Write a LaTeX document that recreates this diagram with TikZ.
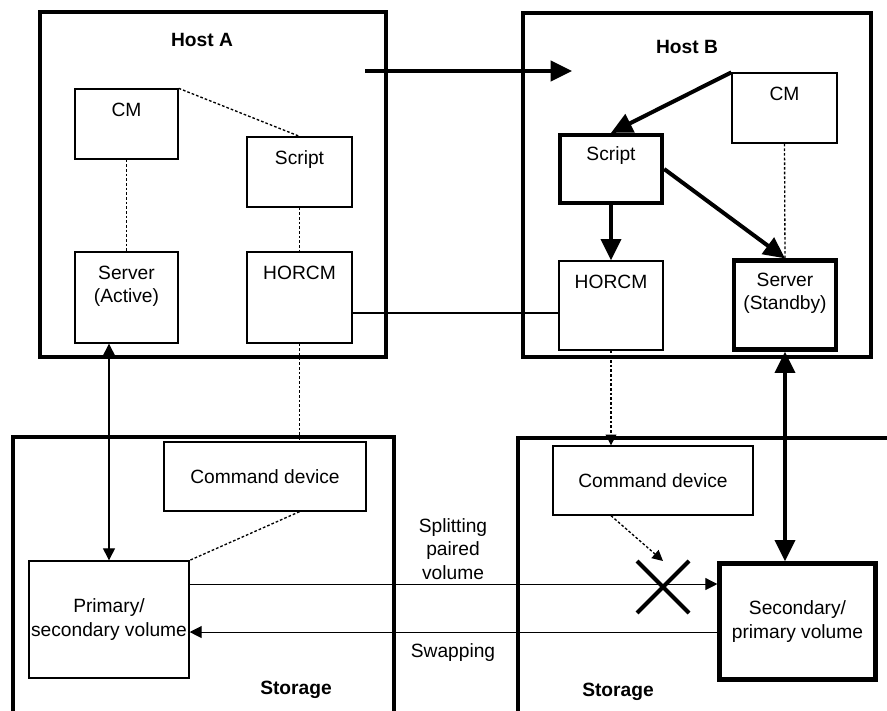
\documentclass[tikz,border=0pt]{standalone}
\usepackage{fontspec}
\setmainfont{Liberation Sans}
\usetikzlibrary{arrows.meta,shapes.misc}

\begin{document}
\begin{tikzpicture}[x=0.75pt, y=-0.75pt,
  every node/.style={font=\fontsize{14.4}{17.5}\selectfont},
  hosttitle/.style={font=\fontsize{14.4}{17.5}\selectfont\bfseries},
  hostframe/.style={line width=3.5pt},
  box/.style={draw, line width=1pt, inner sep=0pt},
  heavy/.style={box, line width=3.2pt},
  toplbl/.style={label={[anchor=base, yshift=-21pt]north:{#1}}},
  duolbl/.style={label={[anchor=base, yshift=-38.5pt, align=center]north:{#1}}},
  link/.style={line width=0.8pt},
  dots/.style={line width=1pt, dash pattern=on 2pt off 1.5pt},
  onearrow/.style={link, -{Triangle[length=9pt, width=9pt]}},
  twoarrow/.style={link, {Triangle[length=9pt, width=9pt]}-{Triangle[length=9pt, width=9pt]}},
  fatarrow/.style={line width=3pt, -{Triangle[length=16pt, width=15pt]}},
  fattwo/.style={line width=3pt, {Triangle[length=16pt, width=15pt]}-{Triangle[length=16pt, width=15pt]}}]
\useasboundingbox (0,0) rectangle (887,710);
\clip (0,0) rectangle (887,710);
\draw[hostframe] (40,12) rectangle (386,357);
\draw[hostframe] (523,13) rectangle (871,357);
\draw[hostframe] (13,437) rectangle (394,730);
\draw[hostframe] (518,438) rectangle (910,730);
\node[hosttitle] (hostA) at (202,40) {Host A};
\node[hosttitle] (hostB) at (687,47) {Host B};
\node[hosttitle] (storA) at (296,690) {Storage};
\node[hosttitle] (storB) at (618,692) {Storage};
\node[box, toplbl=CM, minimum width=77.25pt, minimum height=52.5pt] (cmA) at (126.5,124) {};
\node[box, toplbl=Script, minimum width=78.75pt, minimum height=52.5pt] (scrA) at (299.5,172) {};
\node[box, duolbl={Server\\(Active)}, minimum width=77.25pt, minimum height=68.25pt] (srvA) at (126.5,297.5) {};
\node[box, toplbl=HORCM, minimum width=78.75pt, minimum height=68.25pt] (horA) at (299.5,297.5) {};
\node[box, toplbl=CM, minimum width=78.75pt, minimum height=52.5pt] (cmB) at (784.5,108) {};
\node[heavy, toplbl=Script, minimum width=76.5pt, minimum height=51pt] (scrB) at (611,169) {};
\node[box, toplbl=HORCM, minimum width=78pt, minimum height=66.75pt] (horB) at (611,305.5) {};
\node[heavy, duolbl={Server\\(Standby)}, minimum width=77pt, minimum height=66.75pt] (srvB) at (785,305) {};
\node[box, minimum width=151.5pt, minimum height=51.75pt] (cmdA) at (265,476.5) {Command device};
\node[box, minimum width=150pt, minimum height=51.75pt] (cmdB) at (653,480.5) {Command device};
\node[box, align=center, minimum width=120pt, minimum height=87.75pt] (volA) at (109,619.5) {Primary/\\secondary volume};
\node[heavy, align=center, minimum width=117pt, minimum height=87pt] (volB) at (797.5,621.5) {Secondary/\\primary volume};
\node[cross out, draw, line width=3pt, minimum size=36pt, inner sep=0pt] (block) at (663,587) {};
\node[align=center] (splitlbl) at (453,549) {Splitting\\paired\\volume};
\node (swaplbl) at (453,653) {Swapping};
\coordinate (mvstart) at (365,71);
\coordinate (mvend) at (572,71);
\draw[fatarrow] (mvstart) -- (mvend);
\draw[dots] (cmA.north east) -- (scrA.north);
\draw[dots] (cmA.south) -- (srvA.north);
\draw[dots] (scrA.south) -- (horA.north);
\draw[link] ([yshift=-11.6pt]horA.east) -- ([yshift=-11.6pt]horA.east -| horB.west);
\draw[twoarrow] (srvA.south -| volA.north) -- (volA.north);
\draw[dots] (horA.south) -- (horA.south |- cmdA.north);
\draw[dots] (cmdA.south -| horA.south) -- (volA.north east);
\draw[onearrow] ([yshift=26.6pt]volA.east) -- ([yshift=26.6pt]volA.east -| volB.west);
\draw[onearrow] ([yshift=-9.4pt]volA.east -| volB.west) -- ([yshift=-9.4pt]volA.east);
\draw[fatarrow] (cmB.north west) -- (scrB.north);
\draw[fatarrow] (scrB.south) -- (horB.north);
\draw[fatarrow] (scrB.east) -- (srvB.north);
\draw[dots] (cmB.south) -- (srvB.north);
\draw[dots, -{Triangle[length=8pt, width=8pt]}] (horB.south) -- (horB.south |- cmdB.north);
\draw[dots, -{Triangle[length=8pt, width=8pt]}] (cmdB.south -| horB.south) -- (block.north);
\draw[fattwo] (srvB.south) -- (srvB.south |- volB.north);
\end{tikzpicture}
\end{document}
